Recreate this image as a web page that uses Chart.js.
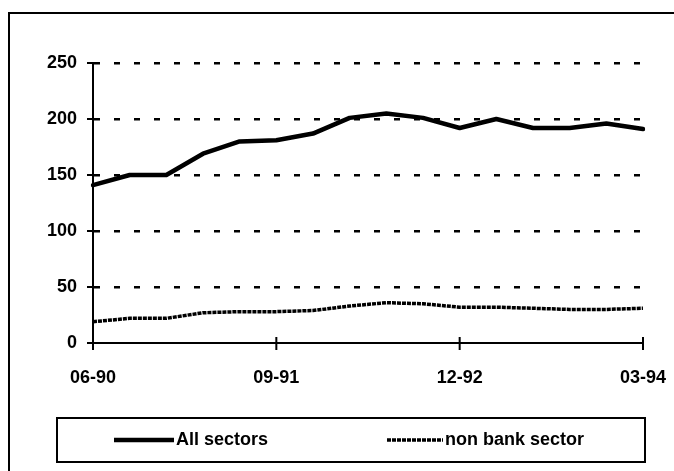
<!DOCTYPE html>
<html>
<head>
<meta charset="utf-8">
<style>
  html, body { margin: 0; padding: 0; background: #fff; }
  #wrap { position: relative; width: 674px; height: 471px; }
</style>
<script src="https://cdn.jsdelivr.net/npm/chart.js@4/dist/chart.umd.min.js"></script>
</head>
<body>
<div id="wrap"><canvas id="c" width="674" height="471"></canvas></div>
<script>
// Quarterly periods
const categories = ['06-90','09-90','12-90','03-91','06-91','09-91','12-91','03-92',
                    '06-92','09-92','12-92','03-93','06-93','09-93','12-93','03-94'];
// Series values
const allSectors = [141, 150, 150, 169, 180, 181, 187, 201, 205, 201, 192, 200, 192, 192, 196, 191];
const nonBank    = [19, 22, 22, 27, 28, 28, 29, 33, 36, 35, 32, 32, 31, 30, 30, 31];
// Axis tick values / labelled periods
const yTicks = [0, 50, 100, 150, 200, 250];
const xLabelEvery = 5;

const FONT = { family: 'Liberation Sans, Arial, sans-serif', size: 18, weight: 'bold' };

// Frame, crossing tick marks and the boxed legend
const decor = {
  id: 'decor',
  beforeDraw(chart) {
    const ctx = chart.ctx;
    ctx.save();
    ctx.strokeStyle = '#000';
    ctx.lineWidth = 2;
    ctx.strokeRect(9, 13, chart.width + 20, chart.height + 20);
    ctx.restore();
  },
  afterDraw(chart) {
    const ctx = chart.ctx;
    const xs = chart.scales.x, ys = chart.scales.y;
    const area = chart.chartArea;
    ctx.save();
    ctx.strokeStyle = '#000';
    ctx.lineWidth = 2;
    ctx.beginPath();
    categories.forEach((c, i) => {
      if (i % xLabelEvery !== 0) return;
      const x = xs.getPixelForValue(i);
      ctx.moveTo(x, area.bottom - 6);
      ctx.lineTo(x, area.bottom + 7);
    });
    yTicks.forEach(v => {
      const y = ys.getPixelForValue(v);
      ctx.moveTo(area.left - 6, y);
      ctx.lineTo(area.left + 5, y);
    });
    ctx.stroke();

    // legend
    const box = { l: 57, t: 418, r: 645, b: 462 };
    ctx.strokeRect(box.l, box.t, box.r - box.l, box.b - box.t);
    const cy = (box.t + box.b) / 2;
    const items = [
      { ds: chart.data.datasets[0], x0: 114, x1: 174 },
      { ds: chart.data.datasets[1], x0: 387, x1: 443 }
    ];
    ctx.font = 'bold 18px "Liberation Sans", Arial, sans-serif';
    ctx.textBaseline = 'middle';
    ctx.textAlign = 'left';
    ctx.fillStyle = '#000';
    items.forEach(it => {
      ctx.save();
      ctx.strokeStyle = it.ds.borderColor;
      ctx.lineWidth = it.ds.borderWidth;
      ctx.setLineDash(it.ds.borderDash || []);
      ctx.beginPath();
      ctx.moveTo(it.x0, cy);
      ctx.lineTo(it.x1, cy);
      ctx.stroke();
      ctx.restore();
      ctx.fillText(it.ds.label, it.x1 + 2, cy);
    });
    ctx.restore();
  }
};

new Chart(document.getElementById('c'), {
  type: 'line',
  data: {
    labels: categories,
    datasets: [
      {
        label: 'All sectors',
        data: allSectors,
        borderColor: '#000',
        borderWidth: 4.5,
        pointRadius: 0,
        tension: 0,
        borderCapStyle: 'round',
        borderJoinStyle: 'round'
      },
      {
        label: 'non bank sector',
        data: nonBank,
        borderColor: '#000',
        borderWidth: 3.5,
        borderDash: [4, 1],
        pointRadius: 0,
        tension: 0
      }
    ]
  },
  options: {
    responsive: false,
    animation: false,
    layout: { padding: { left: 0, right: 31, top: 63, bottom: 0 } },
    plugins: { legend: { display: false }, tooltip: { enabled: false } },
    scales: {
      x: {
        type: 'category',
        offset: false,
        grid: { display: false, drawTicks: false },
        border: { display: true, color: '#000', width: 2 },
        ticks: {
          autoSkip: false,
          maxRotation: 0,
          padding: 24,
          color: '#000',
          font: FONT,
          callback: (v, i) => (i % xLabelEvery === 0 ? categories[i] : '')
        },
        afterFit: s => { s.height = 128; s.paddingLeft = 0; s.paddingRight = 0; }
      },
      y: {
        min: 0,
        max: 250,
        afterBuildTicks: s => { s.ticks = yTicks.map(v => ({ value: v })); },
        grid: {
          color: ctx => (ctx.tick && ctx.tick.value === 0 ? 'rgba(0,0,0,0)' : '#000'),
          lineWidth: 2.5,
          drawTicks: false
        },
        border: { display: true, color: '#000', width: 2, dash: [6, 14] },
        ticks: { padding: 16, color: '#000', font: FONT },
        afterFit: s => { s.width = 93; }
      }
    }
  },
  plugins: [decor]
});
</script>
</body>
</html>
